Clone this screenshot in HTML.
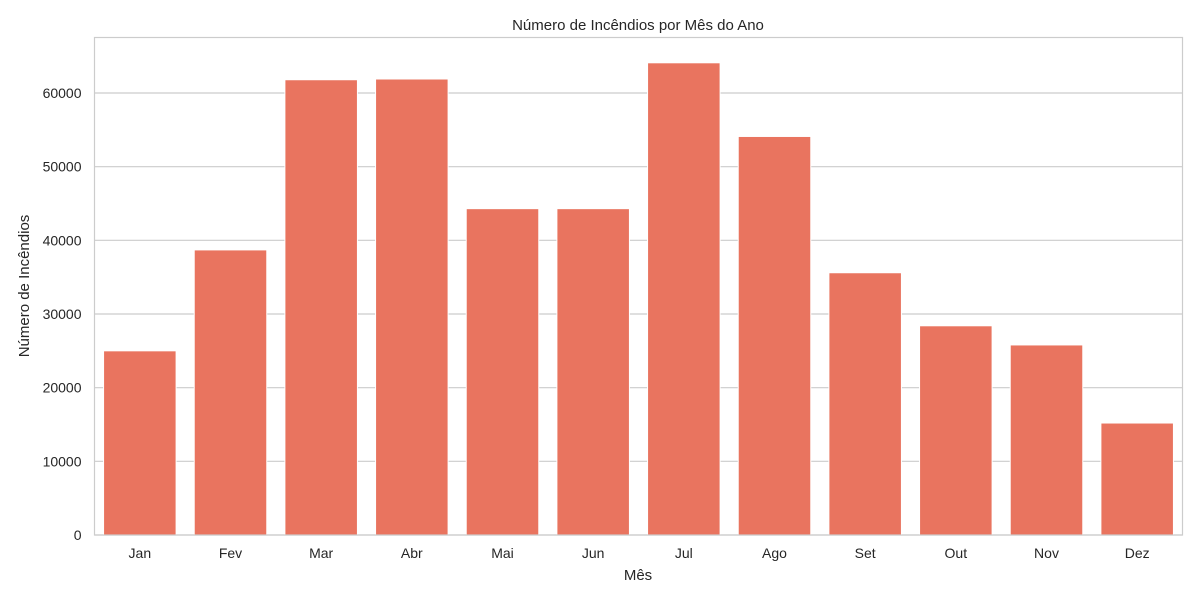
<!DOCTYPE html>
<html><head><meta charset="utf-8"><style>
body{margin:0;background:#fff;}
svg text{font-family:"Liberation Sans",Arial,sans-serif;fill:#262626;}
</style></head><body>
<svg id="chart" width="1200" height="600" xmlns="http://www.w3.org/2000/svg">
<text x="638" y="30" text-anchor="middle" font-size="15">Número de Incêndios por Mês do Ano</text>
<g id="grid"></g><g id="bars"></g><g id="xt"></g><g id="yt"></g>
<rect x="94.5" y="37.5" width="1088" height="497.5" fill="none" stroke="#cccccc" stroke-width="1.2"/>
<text x="638" y="580" text-anchor="middle" font-size="15">Mês</text>
<text transform="translate(29,286) rotate(-90)" text-anchor="middle" font-size="15">Número de Incêndios</text>
</svg>
<script>
const months=["Jan","Fev","Mar","Abr","Mai","Jun","Jul","Ago","Set","Out","Nov","Dez"];
const counts=[25000,38700,61800,61900,44300,44300,64100,54100,35600,28400,25800,15200];
const yTicks=[0,10000,20000,30000,40000,50000,60000];
const L=94.5,R=1182.5,B=535,T=37.5;
const y=v=>B-v*(535-93)/60000;
const band=(R-L)/months.length;
const x=i=>L+band*i;
const ns="http://www.w3.org/2000/svg";
function mk(t,a,p){const e=document.createElementNS(ns,t);for(const k in a)e.setAttribute(k,a[k]);document.getElementById(p).appendChild(e);return e;}
yTicks.forEach(v=>{
 const g=mk("line",{x1:L,x2:R,y1:y(v),y2:y(v),stroke:"#cccccc","stroke-width":1.2},"grid");
 
 
 const t=mk("text",{x:L-13,y:y(v)+5,"text-anchor":"end","font-size":14},"yt");
 t.textContent=v;
 
 
});
months.forEach((m,i)=>{
 const w=band*0.8;
 const r=mk("rect",{x:x(i)+band*0.1,y:y(counts[i]),width:w,height:B-y(counts[i]),fill:"#e9745f",stroke:"#ffffff","stroke-width":1},"bars");
 
 
 const t=mk("text",{x:x(i)+band/2,y:558,"text-anchor":"middle","font-size":14},"xt");
 t.textContent=m;
 
 
});
</script>
</body></html>
